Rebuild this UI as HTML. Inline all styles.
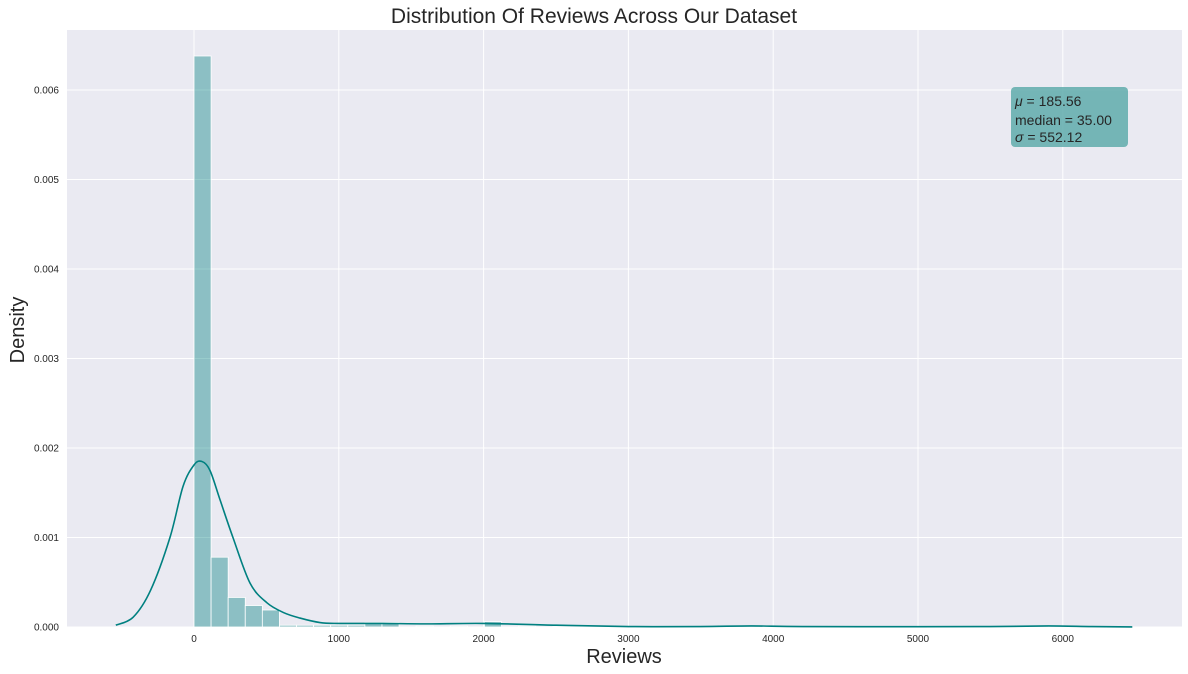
<!DOCTYPE html>
<html><head><meta charset="utf-8"><style>
body{margin:0;background:#fff;}
svg{display:block;font-family:"Liberation Sans","DejaVu Sans",sans-serif;}
</style></head><body>
<svg id="chart" width="1188" height="674">
<rect x="67" y="30" width="1115" height="597" fill="#eaeaf2"/>
<g id="grid"></g>
<g id="bars"></g>
<path id="kde" fill="none" stroke="#008080" stroke-width="1.6"/>
<g id="ticks" font-size="10" fill="#262626"></g>
<text x="594" y="23" text-anchor="middle" font-size="21" fill="#262626">Distribution Of Reviews Across Our Dataset</text>
<text x="624" y="663" text-anchor="middle" font-size="20" fill="#262626">Reviews</text>
<text transform="translate(24,330) rotate(-90)" text-anchor="middle" font-size="20" fill="#262626">Density</text>
<g>
<rect x="1011" y="87" width="117" height="60" rx="4" fill="#5fabab" opacity="0.85"/>
<text x="1015" y="106" font-size="14" fill="#262626"><tspan font-style="italic">μ</tspan> = 185.56</text>
<text x="1015" y="125" font-size="14" fill="#262626">median = 35.00</text>
<text x="1015" y="142" font-size="14" fill="#262626"><tspan font-style="italic">σ</tspan> = 552.12</text>
</g>
</svg>
<script>
const binWidth = 118;
const binStart = 0;
const binDensity = [0.00638,0.00078,0.00033,0.00024,0.00019,0.00002,0.00002,0.00002,0.00002,0.00002,0.00005,0.00005,0,0.00001,0,0.00001,0,0.00006,0,0.00001,0,0.000005,0,0,0,0,0,0,0,0,0,0,0.00001,0,0,0,0,0,0,0,0,0,0,0,0,0,0,0,0,0.00001];
const kdeX = [-540,-420,-300,-166,-76,0,53,110,180,269,387,504,620,732,870,1000,1300,1600,2000,2500,3000,3500,3850,4200,5000,5500,5900,6200,6480];
const kdeY = [0.00002,0.00011,0.00041,0.001,0.00157,0.00181,0.00185,0.00175,0.00142,0.001,0.00049,0.00027,0.00016,0.0001,0.00005,0.00004,0.00004,0.000035,0.00004,0.00002,0.000005,0.000005,0.000012,0.000005,0.000003,0.000005,0.000012,0.000005,0.000001];
const xTicks = [0,1000,2000,3000,4000,5000,6000];
const yTicks = [0,0.001,0.002,0.003,0.004,0.005,0.006];
const xs = v => 194 + v*0.1448;
const ys = v => 627 - v*89500;
const NS="http://www.w3.org/2000/svg";
const grid=document.getElementById('grid'), bars=document.getElementById('bars'), ticks=document.getElementById('ticks');
xTicks.forEach(t=>{
  const l=document.createElementNS(NS,'line');
  l.setAttribute('x1',xs(t));l.setAttribute('x2',xs(t));l.setAttribute('y1',30);l.setAttribute('y2',627);
  l.setAttribute('stroke','#fff');l.setAttribute('stroke-width','1');
  
  
  grid.appendChild(l);
  const tx=document.createElementNS(NS,'text');
  tx.setAttribute('x',xs(t));tx.setAttribute('y',642);tx.setAttribute('text-anchor','middle');
  tx.textContent=t;
  
  
  ticks.appendChild(tx);
});
yTicks.forEach(t=>{
  const l=document.createElementNS(NS,'line');
  l.setAttribute('x1',67);l.setAttribute('x2',1182);l.setAttribute('y1',ys(t));l.setAttribute('y2',ys(t));
  l.setAttribute('stroke','#fff');l.setAttribute('stroke-width','1');
  
  
  grid.appendChild(l);
  const tx=document.createElementNS(NS,'text');
  tx.setAttribute('x',59);tx.setAttribute('y',ys(t)+3.5);tx.setAttribute('text-anchor','end');
  tx.textContent=t.toFixed(3);
  
  
  ticks.appendChild(tx);
});
binDensity.forEach((d,i)=>{
  if(d<=0) return;
  const x0=xs(binStart+i*binWidth), x1=xs(binStart+(i+1)*binWidth);
  const r=document.createElementNS(NS,'rect');
  r.setAttribute('x',x0);r.setAttribute('width',x1-x0);
  r.setAttribute('y',ys(d));r.setAttribute('height',Math.max(ys(0)-ys(d),0.8));
  r.setAttribute('fill','#008080');r.setAttribute('fill-opacity','0.4');
  r.setAttribute('stroke','#fff');r.setAttribute('stroke-width','0.8');
  
  
  bars.appendChild(r);
});
const pts=kdeX.map((x,i)=>[xs(x),ys(kdeY[i])]);
let p='M'+pts[0][0]+','+pts[0][1];
for(let i=0;i<pts.length-1;i++){
  const p0=pts[Math.max(i-1,0)],p1=pts[i],p2=pts[i+1],p3=pts[Math.min(i+2,pts.length-1)];
  const c1=[p1[0]+(p2[0]-p0[0])/6,p1[1]+(p2[1]-p0[1])/6];
  const c2=[p2[0]-(p3[0]-p1[0])/6,p2[1]-(p3[1]-p1[1])/6];
  p+=' C'+c1+' '+c2+' '+p2;
}
document.getElementById('kde').setAttribute('d',p);
</script>
</body></html>
